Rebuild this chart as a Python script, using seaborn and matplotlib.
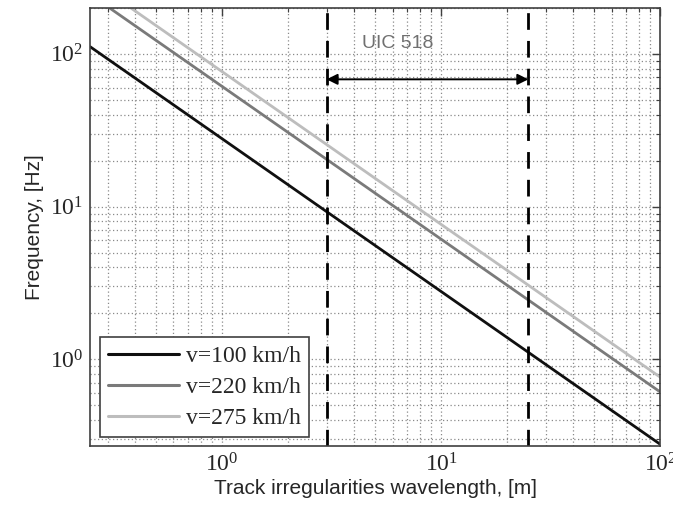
import matplotlib
matplotlib.use("Agg")
import matplotlib.pyplot as plt
import seaborn as sns
import pandas as pd
import numpy as np
from matplotlib.ticker import LogLocator, NullFormatter

# Data
wavelength = [0.25, 1.0, 10.0, 100.0]
f_100 = [111.1, 27.78, 2.778, 0.2778]
f_220 = [244.4, 61.11, 6.111, 0.6111]
f_275 = [305.6, 76.39, 7.639, 0.7639]
labels = ["v=100 km/h", "v=220 km/h", "v=275 km/h"]
colors = ["#101010", "#7a7a7a", "#bdbdbd"]
uic_bounds = [3.0, 25.0]
arrow_freq = 68.0
uic_text = "UIC 518"
xlim = (0.25, 100)
ylim = (0.27, 200)

df = pd.DataFrame({
    "wavelength": wavelength * 3,
    "freq": f_100 + f_220 + f_275,
    "series": [labels[0]] * 4 + [labels[1]] * 4 + [labels[2]] * 4,
})

sns.set_style("white")
plt.rcParams["mathtext.fontset"] = "custom"
plt.rcParams["mathtext.rm"] = "Liberation Serif"
plt.rcParams["mathtext.it"] = "Liberation Serif"
fig = plt.figure(figsize=(6.73, 5.17), dpi=100)
ax = fig.add_axes([0.134, 0.137, 0.847, 0.848])

sns.lineplot(data=df, x="wavelength", y="freq", hue="series",
             palette=dict(zip(labels, colors)), linewidth=2.0, ax=ax,
             legend=False, estimator=None, sort=False)

ax.set_xscale("log")
ax.set_yscale("log")
ax.set_xlim(*xlim)
ax.set_ylim(*ylim)

for b in uic_bounds:
    ax.axvline(b, color="black", lw=2.0, dashes=(6, 4))

ax.annotate("", xy=(uic_bounds[0], arrow_freq), xytext=(uic_bounds[1], arrow_freq),
            arrowprops=dict(arrowstyle="<|-|>", color="black", lw=1.4,
                            shrinkA=0, shrinkB=0, mutation_scale=16))
ax.text(np.sqrt(uic_bounds[0] * uic_bounds[1]) * 0.73, 116, uic_text,
        ha="center", va="center", color="#707070", fontsize=14,
        family="Liberation Sans")

# grid, Matlab style
ax.xaxis.set_major_locator(LogLocator(base=10, numticks=10))
ax.yaxis.set_major_locator(LogLocator(base=10, numticks=10))
ax.xaxis.set_minor_locator(LogLocator(base=10, subs=np.arange(2, 10), numticks=20))
ax.yaxis.set_minor_locator(LogLocator(base=10, subs=np.arange(2, 10), numticks=20))
ax.xaxis.set_minor_formatter(NullFormatter())
ax.yaxis.set_minor_formatter(NullFormatter())
ax.grid(True, which="both", linestyle=(0, (1, 2)), color="#8a8a8a", linewidth=0.9)
ax.set_axisbelow(True)
ax.tick_params(which="both", direction="in", top=True, right=True, color="#404040")
ax.tick_params(which="major", length=6, width=1, pad=5)
ax.tick_params(which="minor", length=3, width=0.8)
for s in ax.spines.values():
    s.set_color("#404040")
    s.set_linewidth(1.2)
    s.set_visible(True)

for lab in ax.get_xticklabels() + ax.get_yticklabels():
    lab.set_family("Liberation Serif")
    lab.set_fontsize(17)

ax.set_xlabel("Track irregularities wavelength, [m]", fontsize=15,
              family="Liberation Sans", labelpad=2)
ax.set_ylabel("Frequency, [Hz]", fontsize=15, family="Liberation Sans", labelpad=4)

handles = [plt.Line2D([], [], color=c, lw=2.2) for c in colors]
leg = ax.legend(handles, labels, loc="lower left", bbox_to_anchor=(0.017, 0.02),
                prop={"family": "Liberation Serif", "size": 17},
                fancybox=False, framealpha=1, edgecolor="#404040",
                handlelength=3.0, handletextpad=0.3, borderpad=0.35,
                labelspacing=0.4, borderaxespad=0)
leg.get_frame().set_linewidth(1.2)

fig.savefig("out.png", dpi=100)
